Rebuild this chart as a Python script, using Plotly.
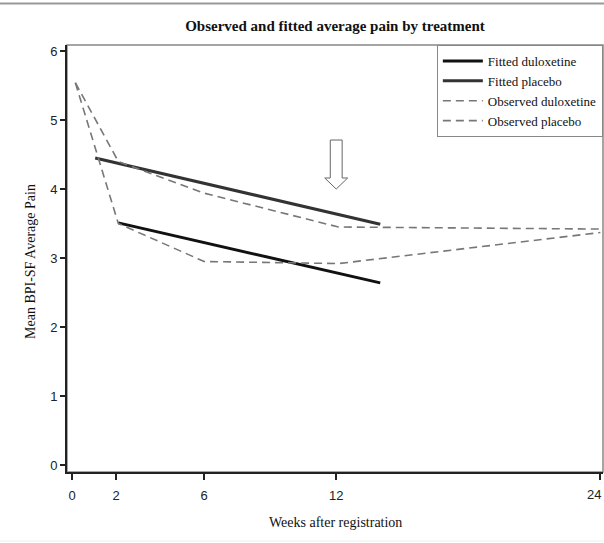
import plotly.graph_objects as go

# ---- data ----
weeks_obs = [0.15, 2.1, 6, 12.1, 24]
obs_duloxetine = [5.54, 3.50, 2.95, 2.92, 3.37]
obs_placebo = [5.54, 4.40, 3.94, 3.45, 3.42]

weeks_fit_dulox = [2.1, 14]
fit_duloxetine = [3.51, 2.64]
weeks_fit_plac = [1.05, 14]
fit_placebo = [4.45, 3.49]

x_ticks = [0, 2, 6, 12, 24]
x_ticklabels = ["0", "2", "6", "12", "24"]
y_ticks = [0, 1, 2, 3, 4, 5, 6]

SERIF = "Liberation Serif, Times New Roman, serif"
SANS = "Liberation Sans, Arial, sans-serif"

fig = go.Figure()
fig.add_trace(go.Scatter(x=weeks_fit_dulox, y=fit_duloxetine, mode="lines",
                         name="Fitted duloxetine",
                         line=dict(color="#111111", width=3)))
fig.add_trace(go.Scatter(x=weeks_fit_plac, y=fit_placebo, mode="lines",
                         name="Fitted placebo",
                         line=dict(color="#333333", width=3)))
fig.add_trace(go.Scatter(x=weeks_obs, y=obs_duloxetine, mode="lines",
                         name="Observed duloxetine",
                         line=dict(color="#777777", width=1.6, dash="8px,5px")))
fig.add_trace(go.Scatter(x=weeks_obs, y=obs_placebo, mode="lines",
                         name="Observed placebo",
                         line=dict(color="#777777", width=1.6, dash="8px,5px")))

# block arrow (outlined) pointing at week 12
ax, a_top, a_neck, a_tip, a_sw, a_hw = 12.0, 4.71, 4.16, 4.0, 0.27, 0.52
arrow_path = (f"M {ax-a_sw},{a_top} L {ax+a_sw},{a_top} L {ax+a_sw},{a_neck} "
              f"L {ax+a_hw},{a_neck} L {ax},{a_tip} L {ax-a_hw},{a_neck} "
              f"L {ax-a_sw},{a_neck} Z")

# the last tick label sits at the right edge: draw it right-anchored so it stays visible
shown_ticktext = x_ticklabels[:-1] + [""]

fig.update_layout(
    width=604, height=543,
    margin=dict(l=67, r=1, t=45, b=71),
    paper_bgcolor="white", plot_bgcolor="white",
    font=dict(family=SERIF, size=12, color="#111111"),
    showlegend=True,
    title=dict(text="<b>Observed and fitted average pain by treatment</b>",
               x=0.5, xref="paper", y=1 - 26 / 543, yref="container",
               xanchor="center", yanchor="middle",
               font=dict(family=SERIF, size=15, color="#111111")),
    legend=dict(x=0.69, y=1.0, xanchor="left", yanchor="top",
                bgcolor="white", bordercolor="#888888", borderwidth=1,
                font=dict(family=SERIF, size=13, color="#111111"),
                tracegroupgap=0, itemwidth=40),
    xaxis=dict(range=[-0.23, 24.12], tickmode="array", tickvals=x_ticks,
               ticktext=shown_ticktext,
               ticks="outside", ticklen=6, tickwidth=1.5, tickcolor="#222222",
               showline=True, linecolor="#222222", linewidth=2,
               showgrid=False, zeroline=False,
               ticklabelstandoff=4, automargin=False,
               tickfont=dict(family=SANS, size=13, color="#222222")),
    yaxis=dict(range=[-0.10, 6.087], tickmode="array", tickvals=y_ticks,
               ticks="outside", ticklen=5, tickwidth=1.5, tickcolor="#222222",
               showline=True, linecolor="#222222", linewidth=2,
               showgrid=False, zeroline=False, automargin=False,
               tickfont=dict(family=SANS, size=13, color="#222222")),
    shapes=[
        dict(type="rect", xref="paper", yref="paper", x0=0, x1=1, y0=0, y1=1,
             line=dict(color="#888888", width=1.5), layer="below"),
        dict(type="path", xref="x", yref="y", path=arrow_path,
             line=dict(color="#666666", width=1), fillcolor="white", layer="above"),
        dict(type="line", xref="paper", yref="paper", x0=-0.2, x1=1.01,
             y0=(472 - 3.5) / 427, y1=(472 - 3.5) / 427,
             line=dict(color="#999999", width=2)),
        dict(type="line", xref="paper", yref="paper", x0=-0.2, x1=1.01,
             y0=(472 - 541) / 427, y1=(472 - 541) / 427,
             line=dict(color="#eeeeee", width=1)),
    ],
    annotations=[
        dict(text=x_ticklabels[-1], xref="paper", yref="paper",
             x=1.0, y=(472 - 494) / 427, xanchor="right", yanchor="middle",
             showarrow=False, font=dict(family=SANS, size=13, color="#222222")),
        dict(text="Weeks after registration", xref="paper", yref="paper",
             x=0.5, y=(472 - 522) / 427, xanchor="center", yanchor="middle",
             showarrow=False, font=dict(family=SERIF, size=14, color="#111111")),
        dict(text="Mean BPI-SF Average Pain", xref="paper", yref="paper",
             x=(30 - 67) / 536, y=(472 - 262) / 427, xanchor="center", yanchor="middle",
             textangle=-90, showarrow=False,
             font=dict(family=SERIF, size=14, color="#111111")),
    ],
)

fig.write_html("out.html")
